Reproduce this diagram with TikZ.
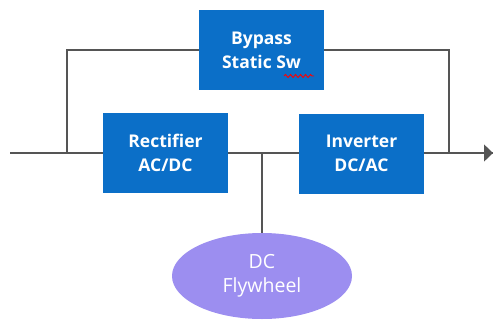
\documentclass[tikz,border=0pt]{standalone}
\usepackage{fontspec}
\setmainfont{Open Sans}
\usetikzlibrary{arrows.meta,decorations.pathmorphing,shapes.geometric}
\definecolor{boxblue}{RGB}{11,111,200}
\definecolor{flyviolet}{RGB}{156,142,240}
\definecolor{wire}{RGB}{85,85,85}
\tikzset{
  blockbox/.style={fill=boxblue, draw=none, minimum width=125pt, minimum height=80pt,
    text=white, font=\fontsize{17.5}{24}\selectfont\bfseries, align=center, inner sep=0pt},
  storage/.style={ellipse, fill=flyviolet, draw=none, minimum width=180pt, minimum height=86pt,
    text=white, font=\fontsize{19.5}{24}\selectfont, align=center, inner sep=0pt},
  wireline/.style={draw=wire, line width=1.5pt},
}
\begin{document}
\begin{tikzpicture}[x=1pt,y=-1pt]
  \useasboundingbox (0,0) rectangle (493,322);
  % junction points on the power path
  \coordinate (in) at (10,153);
  \coordinate (out) at (493,153);
  \coordinate (jl) at (67,153);
  \coordinate (jr) at (449,153);
  \coordinate (jm) at (262,153);
  % wiring drawn first so the blocks sit on top
  \draw[wireline] (in) -- (out);
  \draw[wireline] (jl) -- (67,50) -- (449,50) -- (jr);
  \draw[wireline] (jm) -- (262,240);
  \draw[wireline, -{Triangle[length=9pt,width=17pt]}] (jr) -- (out);
  % blocks
  \node[blockbox] (byp) at (261.5,50) {Bypass\\Static Sw};
  \node[blockbox] (rect) at (165.5,153) {Rectifier\\AC/DC};
  \node[blockbox] (inv) at (361.5,153.5) {Inverter\\DC/AC};
  \node[storage] (fly) at (262,276) {DC\\Flywheel};
  % spell-check squiggle under "Sw"
  \coordinate (sq1) at (284,76);
  \coordinate (sq2) at (314,76);
  \draw[red, line width=0.9pt, decorate, decoration={snake, amplitude=1.5pt, segment length=5pt}] (sq1) -- (sq2);
\end{tikzpicture}
\end{document}
